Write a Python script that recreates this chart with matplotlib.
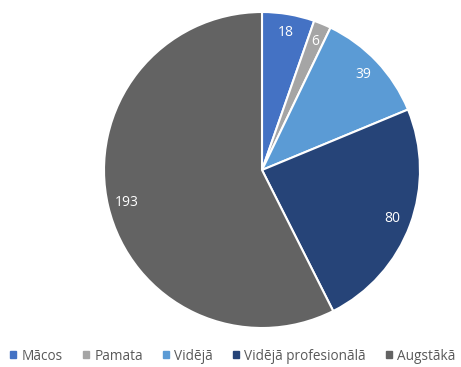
import matplotlib
matplotlib.use("Agg")
import matplotlib.pyplot as plt
from matplotlib.patches import Rectangle

categories = ["Mācos", "Pamata", "Vidējā", "Vidējā profesionālā", "Augstākā"]
counts = [18, 6, 39, 80, 193]
colors = ["#4472C4", "#A5A5A5", "#5B9BD5", "#264478", "#636363"]

plt.rcParams["font.family"] = ["Open Sans", "DejaVu Sans"]

W, H = 461, 367
fig = plt.figure(figsize=(W / 100, H / 100), dpi=100)

cx, cy, r = 262, 170, 158
ax = fig.add_axes([(cx - r) / W, (H - cy - r) / H, 2 * r / W, 2 * r / H])
total = sum(counts)
wedges, _, autotexts = ax.pie(
    counts,
    colors=colors,
    startangle=90,
    counterclock=False,
    radius=1.0,
    autopct=lambda p: f"{round(p * total / 100):d}",
    pctdistance=0.88,
    wedgeprops=dict(edgecolor="white", linewidth=1.5),
    textprops=dict(color="white", fontsize=10),
)
ax.set_xlim(-1, 1)
ax.set_ylim(-1, 1)
ax.axis("off")

handles = [Rectangle((0, 0), 1, 1, color=c) for c in colors]
fig.legend(
    handles, categories,
    loc="center", bbox_to_anchor=(0.505, 1 - 356 / H),
    ncol=5, frameon=False, fontsize=9.8,
    handlelength=0.45, handleheight=0.45, handletextpad=0.4,
    columnspacing=1.45, labelcolor="#595959",
    borderpad=0, borderaxespad=0,
)

fig.savefig("out.png", dpi=100)
